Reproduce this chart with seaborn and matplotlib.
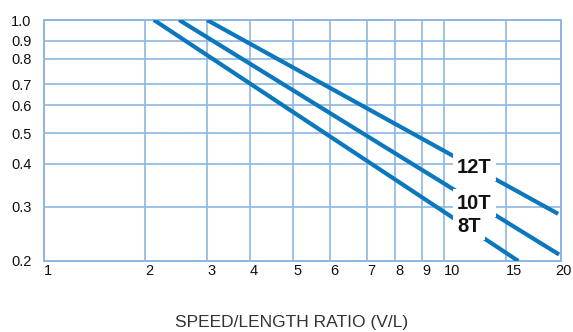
import numpy as np
import pandas as pd
import matplotlib
matplotlib.use("Agg")
import matplotlib.pyplot as plt
import matplotlib.transforms as mtransforms
import seaborn as sns

# tick values on each axis
x_ticks = [1, 2, 3, 4, 5, 6, 7, 8, 9, 10, 15, 20]
y_ticks = [0.2, 0.3, 0.4, 0.5, 0.6, 0.7, 0.8, 0.9, 1.0]

# the printed grid is not an exact log scale: where each tick sits (axes fraction)
x_tick_pos = [0, 0.1954, 0.3153, 0.3985, 0.4816, 0.5532, 0.6248, 0.6789, 0.7311, 0.7737, 0.8936, 1.0]
y_tick_pos = [0, 0.2241, 0.4025, 0.5311, 0.6473, 0.7344, 0.8382, 0.9129, 1.0]

# line endpoints
series = ["12T", "10T", "8T"]
ratio_start = [3.0, 2.5, 2.12]
ratio_end = [19.7, 19.8, 16.0]
coef_start = [1.0, 1.0, 1.0]
coef_end = [0.285, 0.21, 0.2]

# label anchors
label_x = [12.2, 12.2, 11.8]
label_y = [0.392, 0.308, 0.26]

rows = []
for name, x0, x1, y0, y1 in zip(series, ratio_start, ratio_end, coef_start, coef_end):
    rows.append({"series": name, "ratio": x0, "coef": y0})
    rows.append({"series": name, "ratio": x1, "coef": y1})
df = pd.DataFrame(rows)


def make_scale(ticks, pos):
    lt = np.log10(ticks)

    def fwd(v):
        return np.interp(np.log10(np.maximum(v, 1e-9)), lt, pos)

    def inv(p):
        return 10 ** np.interp(p, pos, lt)

    return fwd, inv


sns.set_theme(style="white")
plt.rcParams["font.family"] = ["Liberation Sans", "DejaVu Sans"]

grid_col = "#8db6e3"
line_col = "#0b78be"

fig = plt.figure(figsize=(5.73, 3.32), dpi=100)
ax = fig.add_axes([44 / 573, 1 - 261 / 332, 517 / 573, 241 / 332])

ax.set_xscale("function", functions=make_scale(x_ticks, x_tick_pos))
ax.set_yscale("function", functions=make_scale(y_ticks, y_tick_pos))
ax.set_xlim(1, 20)
ax.set_ylim(0.2, 1.0)

sns.lineplot(data=df, x="ratio", y="coef", hue="series", units="series",
             estimator=None, palette=[line_col] * 3, linewidth=3.0,
             legend=False, ax=ax, zorder=3, solid_capstyle="butt")

ax.set_xticks(x_ticks, [str(v) for v in x_ticks])
ax.set_yticks(y_ticks, [f"{v:.1f}" for v in y_ticks])
ax.minorticks_off()
ax.grid(True, color=grid_col, linewidth=1.2)
ax.set_axisbelow(True)
for s in ax.spines.values():
    s.set_color(grid_col)
    s.set_linewidth(1.4)

ax.tick_params(axis="x", length=0, pad=2, labelsize=10.5, labelcolor="#111111")
ax.tick_params(axis="y", length=0, pad=9, labelsize=10.5, labelcolor="#111111")
xlabs = ax.get_xticklabels()
for lab in xlabs:
    lab.set_horizontalalignment("left")
# last label pulled back so it stays inside the figure
shift = mtransforms.ScaledTranslation(-4 / 72, 0, fig.dpi_scale_trans)
xlabs[-1].set_transform(xlabs[-1].get_transform() + shift)

for name, lx, ly in zip(series, label_x, label_y):
    ax.text(lx, ly, name, fontsize=14.5, fontweight="bold", color="#111111",
            ha="center", va="center", zorder=5,
            bbox=dict(facecolor="white", edgecolor="none", pad=3))

ax.set_xlabel("SPEED/LENGTH RATIO (V/L)", fontsize=12.5, color="#333333")
ax.xaxis.set_label_coords(0.478, -0.222)
ax.xaxis.label.set_verticalalignment("top")
ax.set_ylabel("")

fig.savefig("out.png", dpi=100)
